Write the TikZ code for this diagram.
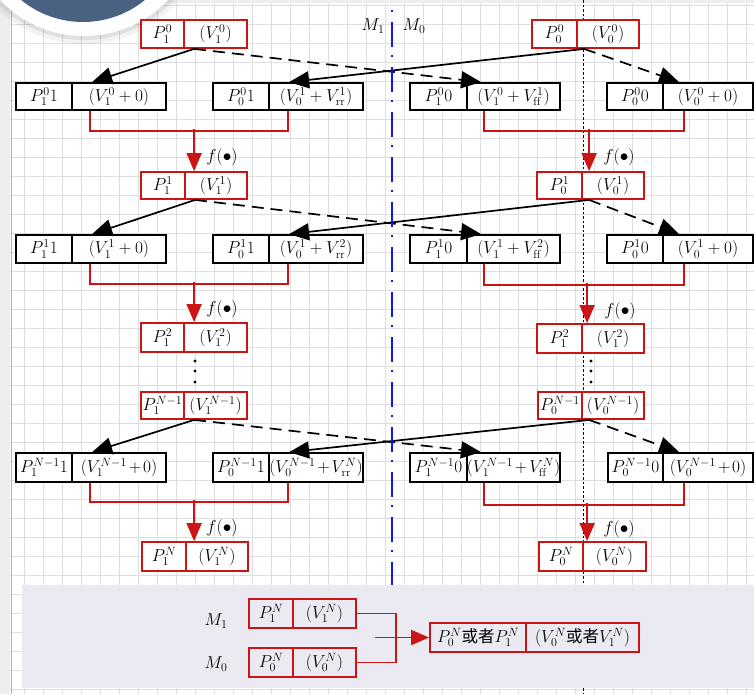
\documentclass[tikz,border=0pt]{standalone}
\usepackage{fontspec}
\newfontfamily\cjk{Noto Sans CJK SC}
\usetikzlibrary{arrows.meta,calc}
\definecolor{redc}{RGB}{204,20,20}
\definecolor{gridc}{RGB}{222,222,222}
\definecolor{bandc}{RGB}{235,233,241}
\definecolor{circc}{RGB}{74,98,130}
\definecolor{bluec}{RGB}{20,20,240}
\definecolor{stripc}{RGB}{238,238,238}
\newcommand\tightsum{\medmuskip=2mu plus 1mu minus 2mu}
\newcommand\dbox[9]{%
 \pgfmathsetmacro\dbwa{#3-#2}%
 \pgfmathsetmacro\dbwb{#4-#3}%
 \pgfmathsetmacro\dbh{#6-#5}%
 \pgfmathsetmacro\dbya{(#5+#6)/2}%
 \pgfmathsetmacro\dbxa{(#2+#3)/2}%
 \pgfmathsetmacro\dbxb{(#3+#4)/2}%
 \node[#7, minimum width=\dbwa pt, minimum height=\dbh pt] (#1L) at (\dbxa,\dbya) {#8};
 \node[#7, minimum width=\dbwb pt, minimum height=\dbh pt] (#1R) at (\dbxb,\dbya) {#9};
}
\begin{document}
\begin{tikzpicture}[x=1pt,y=-1pt,font=\fontsize{16.5}{18}\selectfont,
 bbox/.style={draw=black, line width=1.8pt, fill=white, inner sep=0pt, rectangle},
 rbox/.style={draw=redc, line width=1.8pt, fill=white, inner sep=0pt, rectangle},
 ebox/.style={draw=redc, line width=1.8pt, inner sep=0pt, rectangle},
 solidarr/.style={line width=1.7pt, -{Triangle[length=20pt,width=17pt]}},
 dasharr/.style={solidarr, dash pattern=on 12pt off 7pt},
 redline/.style={draw=redc, line width=1.8pt},
 redarr/.style={redline, -{Triangle[length=18pt,width=15pt]}},
 flab/.style={inner sep=0pt},
 dotc/.style={fill=black, circle, inner sep=0pt, minimum size=3.2pt}]
\useasboundingbox (0,0) rectangle (754,694);
\clip (0,0) rectangle (754,694);
\fill[white] (0,0) rectangle (754,694);
% grid
\foreach \x in {24,43,...,754} \draw[gridc, line width=0.8pt] (\x,0) -- (\x,694);
\foreach \y in {5,24,...,694} \draw[gridc, line width=0.8pt] (0,\y) -- (754,\y);
% strips
\fill[stripc] (0,0) rectangle (10,694);
\draw[gridc!80!black, line width=1pt] (11,0) -- (11,694);
\fill[stripc] (0,0) rectangle (754,3);
% circle badge
\fill[black, opacity=0.05] (84,-80) circle (124);
\fill[black, opacity=0.07] (84,-80) circle (120);
\fill[white] (84,-80) circle (116);
\fill[circc] (83,-76) circle (98);
% bottom band
\fill[bandc] (22,585) rectangle (754,688);
% dotted vertical
\draw[black, line width=0.6pt, dash pattern=on 2.5pt off 2pt] (583,0) -- (583,585);
\draw[black, line width=0.6pt, dash pattern=on 2.5pt off 2pt] (583,688) -- (583,694);
% M labels
\node (mt1) at (373,26) {$M_1$};
\node (mt0) at (414,26) {$M_0$};

% boxes
\dbox{t0l}{141}{184}{247}{20}{48}{rbox}{$P_1^0$}{$(V_1^0)$}
\dbox{t0r}{532}{577}{639}{20}{48}{rbox}{$P_0^0$}{$(V_0^0)$}
\dbox{a1}{16}{72}{166}{83}{110}{bbox}{$P_1^0 1$}{$(V_1^0+0)$}
\dbox{b1}{213}{269}{363}{83}{110}{bbox}{$P_0^0 1$}{$(V_0^1+V_{\mathrm{rr}}^1)$}
\dbox{c1}{410}{467}{560}{83}{110}{bbox}{$P_1^0 0$}{$(V_1^0+V_{\mathrm{ff}}^1)$}
\dbox{d1}{607}{663}{753}{83}{110}{bbox}{$P_0^0 0$}{$(V_0^0+0)$}
\dbox{t1l}{141}{185}{247}{172}{199}{rbox}{$P_1^1$}{$(V_1^1)$}
\dbox{t1r}{537}{582}{644}{172}{199}{rbox}{$P_0^1$}{$(V_0^1)$}
\dbox{a2}{16}{72}{166}{235}{263}{bbox}{$P_1^1 1$}{$(V_1^1+0)$}
\dbox{b2}{213}{269}{363}{235}{263}{bbox}{$P_0^1 1$}{$(V_0^1+V_{\mathrm{rr}}^2)$}
\dbox{c2}{410}{467}{560}{235}{263}{bbox}{$P_1^1 0$}{$(V_1^1+V_{\mathrm{ff}}^2)$}
\dbox{d2}{607}{663}{753}{235}{263}{bbox}{$P_0^1 0$}{$(V_0^1+0)$}
\dbox{t2l}{141}{184}{247}{323}{352}{rbox}{$P_1^2$}{$(V_1^2)$}
\dbox{t2r}{537}{582}{644}{324}{353}{rbox}{$P_1^2$}{$(V_1^2)$}
\dbox{t3l}{141}{184}{247}{392}{419}{rbox}{$P_1^{N-1}$}{$(V_1^{N-1})$}
\dbox{t3r}{538}{582}{644}{392}{419}{rbox}{$P_0^{N-1}$}{$(V_0^{N-1})$}
\dbox{a3}{16}{72}{166}{453}{482}{bbox}{$P_1^{N-1}1$}{\tightsum$(V_1^{N-1}+0)$}
\dbox{b3}{213}{269}{363}{453}{482}{bbox}{$P_0^{N-1}1$}{\tightsum$(V_0^{N-1}+V_{\mathrm{rr}}^N)$}
\dbox{c3}{410}{467}{560}{453}{482}{bbox}{$P_1^{N-1}0$}{\tightsum$(V_1^{N-1}+V_{\mathrm{ff}}^N)$}
\dbox{d3}{608}{663}{753}{453}{482}{bbox}{$P_0^{N-1}0$}{\tightsum$(V_0^{N-1}+0)$}
\dbox{t4l}{142}{186}{248}{542}{571}{rbox}{$P_1^N$}{$(V_1^N)$}
\dbox{t4r}{539}{583}{646}{542}{571}{rbox}{$P_0^N$}{$(V_0^N)$}
\dbox{m1}{249}{293}{356}{599}{628}{ebox}{$P_1^N$}{$(V_1^N)$}
\dbox{m0}{249}{293}{356}{648}{677}{ebox}{$P_0^N$}{$(V_0^N)$}
\dbox{res}{430}{526}{639}{623}{652}{ebox}{$P_0^N${\cjk 或者}$P_1^N$}{$(V_0^N${\cjk 或者}$V_1^N)$}

% black arrows, three stages
\foreach \t/\a/\b/\c/\d in {t0/a1/b1/c1/d1, t1/a2/b2/c2/d2, t3/a3/b3/c3/d3}{
 \draw[solidarr] ($(\t lR.south west)+(11,0)$) -- ($(\a R.north west)+(21,0)$);
 \draw[dasharr] ($(\t lR.south west)+(11,0)$) -- ($(\c R.north west)+(15,0)$);
 \draw[solidarr] ($(\t rR.south west)+(8,0)$) -- ($(\b R.north west)+(21,0)$);
 \draw[dasharr] ($(\t rR.south west)+(8,0)$) -- ($(\d R.north west)+(17,0)$);
}

% red brackets and arrows
\draw[redline] ($(a1R.south west)+(19,0)$) -- ++(0,20) -| ($(b1R.south west)+(20,0)$);
\draw[redline] ($(c1R.south west)+(18,0)$) -- ++(0,20) -| ($(d1R.south west)+(22,0)$);
\draw[redarr] ($(t1lR.north west)+(10,-42)$) -- ($(t1lR.north west)+(10,0)$);
\draw[redarr] ($(t1rR.north west)+(8,-42)$) -- ($(t1rR.north west)+(8,0)$);
\draw[redline] ($(a2R.south west)+(19,0)$) -- ++(0,20) -| ($(b2R.south west)+(20,0)$);
\draw[redline] ($(c2R.south west)+(18,0)$) -- ++(0,21) -| ($(d2R.south west)+(22,0)$);
\draw[redarr] ($(t2lR.north west)+(11,-40)$) -- ($(t2lR.north west)+(11,0)$);
\draw[redarr] ($(t2rR.north west)+(6,-40)$) -- ($(t2rR.north west)+(6,0)$);
\draw[redline] ($(a3R.south west)+(19,0)$) -- ++(0,19) -| ($(b3R.south west)+(20,0)$);
\draw[redline] ($(c3R.south west)+(18,0)$) -- ++(0,22) -| ($(d3R.south west)+(22,0)$);
\draw[redarr] ($(t4lR.north west)+(9,-41)$) -- ($(t4lR.north west)+(9,0)$);
\draw[redarr] ($(t4rR.north west)+(5,-38)$) -- ($(t4rR.north west)+(5,0)$);

% f labels
\node[flab] (f1l) at (222,157) {$f(\bullet)$};
\node[flab] (f1r) at (619,157) {$f(\bullet)$};
\node[flab] (f2l) at (222,309) {$f(\bullet)$};
\node[flab] (f2r) at (620,311) {$f(\bullet)$};
\node[flab] (f3l) at (222,528) {$f(\bullet)$};
\node[flab] (f3r) at (619,529) {$f(\bullet)$};

% vertical dots
\foreach \y [count=\i] in {361,371,382}{
 \node[dotc] (dl\i) at (195,\y) {};
 \node[dotc] (dr\i) at (591,\y) {};
}

% blue dash-dot line
\draw[bluec, line width=2.6pt, dash pattern=on 25pt off 8pt on 2pt off 10pt, dash phase=33pt] (392,10) -- (392,585);

% bottom part
\node (mb1) at (216,621) {$M_1$};
\node (mb0) at (216,664) {$M_0$};
\draw[redline] (m1R.east) -- ++(39,0) |- (m0R.east);
\coordinate (mj) at (375,637.5);
\draw[redarr] (mj) -- (resL.west);
\end{tikzpicture}
\end{document}
